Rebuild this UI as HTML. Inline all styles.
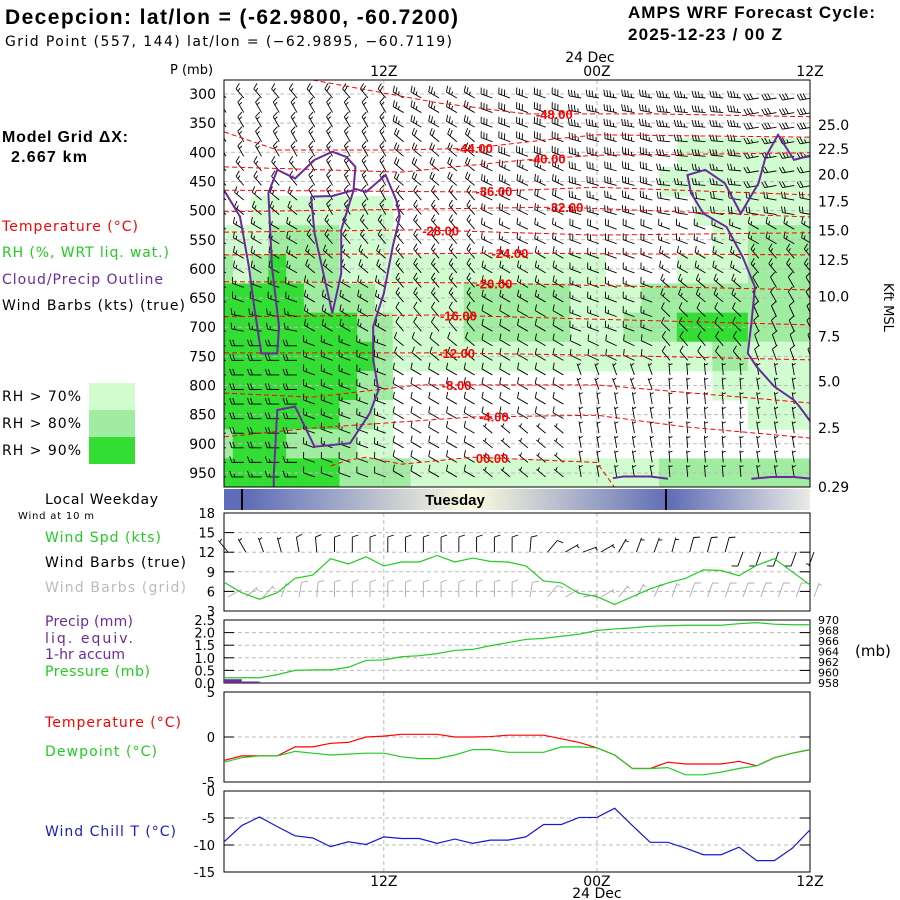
<!DOCTYPE html>
<html><head><meta charset="utf-8"><style>
html,body{margin:0;padding:0;background:#fff;}
svg{display:block;font-family:"DejaVu Sans","Liberation Sans",sans-serif;}
.t{font-size:14px;}
.b{font-family:"Liberation Sans",sans-serif;font-weight:bold;}
</style></head><body>
<svg id="c" width="900" height="900" viewBox="0 0 900 900" xmlns="http://www.w3.org/2000/svg">
<defs>
<linearGradient id="dayg" x1="224" x2="810" y1="0" y2="0" gradientUnits="userSpaceOnUse">
<stop offset="0" stop-color="#5f6db8"/><stop offset="0.04" stop-color="#5f6db8"/><stop offset="0.42" stop-color="#fdfde0"/><stop offset="0.76" stop-color="#5f6db5"/><stop offset="1" stop-color="#ebebe6"/>
</linearGradient>
<clipPath id="mainclip"><rect x="224" y="80" width="586" height="407"/></clipPath>
</defs>
<g>
<text class="b" x="5" y="24" font-size="21" textLength="453">Decepcion:  lat/lon = (-62.9800, -60.7200)</text>
<text x="5" y="46" font-size="14" textLength="447">Grid Point (557, 144) lat/lon = (−62.9895, −60.7119)</text>
<text class="b" x="628" y="18" font-size="17" textLength="247">AMPS WRF Forecast Cycle:</text>
<text class="b" x="628" y="40" font-size="17" textLength="154">2025-12-23 / 00  Z</text>
</g>
<g class="t">
<text class="b" x="2" y="142" font-size="16" textLength="126">Model Grid ΔX:</text>
<text class="b" x="11" y="162" font-size="16" textLength="76">2.667 km</text>
<text x="2" y="231" fill="#f00" textLength="136">Temperature (°C)</text>
<text x="2" y="257" fill="#22cc22" textLength="167">RH (%, WRT liq. wat.)</text>
<text x="2" y="284" fill="#6a2a9a" textLength="161">Cloud/Precip Outline</text>
<text x="2" y="310" fill="#000" textLength="183">Wind Barbs (kts) (true)</text>
<text x="2" y="401" textLength="79">RH &gt; 70%</text>
<text x="2" y="428" textLength="79">RH &gt; 80%</text>
<text x="2" y="455" textLength="79">RH &gt; 90%</text>
<rect x="89" y="383" width="46" height="27" fill="#d0fcd0"/>
<rect x="89" y="410" width="46" height="27" fill="#a0eca0"/>
<rect x="89" y="437" width="46" height="27" fill="#33dd33"/>
<text x="45" y="504" textLength="113">Local Weekday</text>
<text x="18" y="519" font-size="10" textLength="76">Wind at 10 m</text>
<text x="45" y="542" fill="#22cc22" textLength="116">Wind Spd (kts)</text>
<text x="45" y="567" textLength="141">Wind Barbs (true)</text>
<text x="45" y="592" fill="#bbb" textLength="141">Wind Barbs (grid)</text>
<text x="45" y="626" fill="#6a2a9a" textLength="88">Precip (mm)</text>
<text x="45" y="643" fill="#6a2a9a" textLength="88">liq. equiv.</text>
<text x="45" y="659" fill="#6a2a9a" textLength="80">1-hr accum</text>
<text x="45" y="676" fill="#22cc22" textLength="105">Pressure (mb)</text>
<text x="45" y="727" fill="#f00" textLength="136">Temperature (°C)</text>
<text x="45" y="756" fill="#22cc22" textLength="112">Dewpoint (°C)</text>
<text x="45" y="836" fill="#1a1acc" textLength="131">Wind Chill T (°C)</text>
</g>
<g id="main"></g>
<g id="lower"></g>
</svg>
<script>
// ---------- data ----------
var hours = [0,1,2,3,4,5,6,7,8,9,10,11,12,13,14,15,16,17,18,19,20,21,22,23,24,25,26,27,28,29,30,31,32,33];
var pLevels = [300,350,400,450,500,550,600,650,700,750,800,850,900,950];
var rhRows = [
"0000000000000000000000000000000000",
"0000000000000000000000000000000000",
"0000000000000000000000000011111111",
"0000000000000000000000000111111111",
"0011111111000000000000000001111111",
"1112222111000000000000000000112222",
"2123222111111111111111000011112222",
"3333322221111122222211112222222222",
"3333333322111122222211122233332222",
"3333333332111111111111111111221111",
"3333333322000000000000000000111111",
"3333333221000000000000000000001111",
"2333222211000000000000000000000000",
"3333333222211111111111111222222222"];
var contourLevels = ["-48.00","-44.00","-40.00","-36.00","-32.00","-28.00","-24.00","-20.00","-16.00","-12.00","-8.00","-4.00","00.00"];
var contourLines = [
[[5,276],[12,315],[17,334],[24,334],[33,339]],
[[0,365],[3,396],[10,396],[14,393],[18,379],[21,370],[33,374]],
[[0,425],[10,434],[17,413],[21,405],[33,401]],
[[0,465],[14,468],[21,460],[33,473]],
[[0,502],[19,494],[33,511]],
[[0,537],[11,533],[21,542],[33,538]],
[[0,576],[16,573],[33,576]],
[[0,622],[14,624],[33,636]],
[[0,682],[12,679],[33,696]],
[[0,744],[12,744],[21,748],[33,756]],
[[0,813],[5,820],[11,799],[21,799],[33,830]],
[[0,888],[5,873],[14,854],[21,851],[26,871],[33,890]],
[[6,938],[7,928],[8,923],[10,935],[14,923],[18,928],[21,932],[22,975]]];
var contourLabelHour = [18.6,14.1,18.2,15.2,19.2,12.2,16.1,15.2,13.2,13.1,13.1,15.2,15.1];
var cloudLines = [
[[0,465],[0.9,510],[1.4,596],[1.7,665],[2.1,745],[3,745],[3.1,699],[2.7,596],[2.5,470],[3,430],[4,445],[5.1,413],[6.1,399],[6.9,408],[7.4,425],[7.3,462],[8,468],[9.1,439],[9.7,482],[9.9,510],[9.5,562],[9,642],[8.4,699],[8.4,756],[8.7,808],[8.2,848],[7.1,899],[5.1,905],[4,836],[3,842],[2.8,956],[2.8,975]],
[[4.9,476],[6.1,475],[7.3,465],[6.6,533],[6.6,608],[6.1,676],[5.6,608],[5.1,539],[4.9,476]],
[[33.1,405],[32.1,413],[31.2,370],[30.5,408],[30.1,453],[29.1,505],[28.2,453],[27.1,430],[26.1,439],[26.3,470],[27,505],[28.3,528],[29.2,579],[29.9,631],[29.7,693],[29.5,745],[30,768],[31,802],[32.1,825],[32.4,836],[33.1,865]],
[[21.9,959],[22.5,956],[24,956],[25,960]],
[[29.7,960],[30.8,957],[32.1,957],[33.1,960]]];
// wind barbs: coarse blocks (hours 0-4,5-9,10-14,15-19,20-24,25-29,30-33)
var barbDir = [
[320,320,300,290,280,275,260],[330,330,300,290,280,275,260],[330,330,310,290,285,275,260],
[320,330,310,295,285,275,260],[310,330,320,295,285,280,280],[300,320,320,295,290,290,300],
[300,310,320,300,290,300,320],[290,300,320,300,290,310,330],[280,300,320,300,290,315,335],
[270,290,310,300,295,320,340],[270,290,300,300,340,355,350],[270,290,300,300,350,355,350],
[270,290,300,310,350,355,350],[270,290,300,310,350,355,350]];
var barbSpd = [
[15,20,25,30,35,35,30],[15,15,25,30,35,35,30],[15,15,20,30,35,30,25],[15,15,20,25,30,25,20],
[15,15,15,20,25,20,20],[15,15,15,15,20,15,15],[15,15,15,15,15,15,15],[15,15,15,15,15,15,10],
[15,15,10,10,15,10,10],[20,15,10,10,10,10,10],[20,15,10,10,5,5,5],[20,15,10,10,5,5,5],
[20,15,10,5,5,5,5],[15,10,10,5,5,5,5]];
var windSpd = [7.4,5.8,4.8,5.8,8,8.5,11,10.2,11.3,9.9,10.5,10.5,11.5,10.5,11.1,10.6,10.5,9.9,7.6,7.3,5.7,5.2,4.0,5.2,6.4,7.3,8,9.3,9.2,8.4,10,11,9,7];
var windDirTrue = [320,330,340,345,350,355,0,0,0,0,0,0,0,0,0,0,0,5,40,60,70,60,30,20,20,15,15,15,15,200,200,200,200,200];
var windDirGrid = [60,50,40,20,10,5,0,0,0,0,0,0,0,0,0,0,0,10,40,60,80,60,40,30,25,20,20,20,20,20,20,20,20,20];
var precip = [0.15,0.06,0,0,0,0,0,0,0,0,0,0,0,0,0,0,0,0,0,0,0,0,0,0,0,0,0,0,0,0,0,0,0,0];
var pressure = [959,959,959,959.6,960.4,960.5,960.5,961,962.3,962.4,963,963.2,963.6,964.2,964.4,965.1,965.7,966.3,966.5,966.9,967.3,968,968.3,968.5,968.8,968.9,969,969,969,969.3,969.5,969.2,969.1,969.1];
var temp = [-2.6,-2.1,-2.1,-2.1,-1.1,-1.1,-0.7,-0.6,0,0.1,0.3,0.3,0.3,0,0,0.05,0.2,0.2,0.2,-0.2,-0.6,-1.2,-2.0,-3.5,-3.5,-2.8,-3.0,-3.0,-3.0,-2.7,-3.2,-2.3,-1.8,-1.4];
var dewp = [-2.8,-2.3,-2.1,-2.1,-1.6,-1.8,-2.0,-1.9,-1.8,-1.8,-2.2,-2.4,-2.4,-2.0,-1.4,-1.4,-1.7,-1.7,-1.7,-1.1,-1.1,-1.2,-2.0,-3.5,-3.5,-3.4,-4.2,-4.2,-3.9,-3.5,-3.2,-2.3,-1.8,-1.4];
var windChill = [-9.4,-6.4,-4.8,-6.6,-8.3,-8.7,-10.3,-9.4,-9.9,-8.5,-8.8,-8.8,-9.7,-8.9,-9.7,-9.1,-9.1,-8.5,-6.2,-6.2,-4.9,-4.9,-3.2,-6.4,-9.5,-9.5,-10.6,-11.8,-11.8,-10.4,-12.9,-12.9,-10.6,-7.2];
var pTicks = ["300","350","400","450","500","550","600","650","700","750","800","850","900","950"];
var kftTicks = ["25.0","22.5","20.0","17.5","15.0","12.5","10.0","7.5","5.0","2.5","0.29"];
var kftPress = [353,394,438,484,534,585,647,716,793,873,974];
var timeTickHours = [9,21,33];
var timeTickLabels = ["12Z","00Z","12Z"];
var spdTicks = [3,6,9,12,15,18];
var precipTicks = [0,0.5,1,1.5,2,2.5];
var precipTickLabels = ["0.0","0.5","1.0","1.5","2.0","2.5"];
var presTickLabels = ["958","960","962","964","966","968","970"];
var tempTicks = [-5,0,5];
var chillTicks = [-15,-10,-5,0];

// ---------- helpers ----------
var NS = "http://www.w3.org/2000/svg";
var main = document.getElementById('main');
var lower = document.getElementById('lower');
function mk(tag, attrs, parent){var e=document.createElementNS(NS,tag);for(var k in attrs)e.setAttribute(k,attrs[k]);parent.appendChild(e);return e;}
var X0=224, X1=810;
function xh(h){return X0 + h*(X1-X0)/33;}
function yp(p){return 94 + (p-300)*0.583;}
function lin(v,v0,v1,y0,y1){return y0+(v-v0)*(y1-y0)/(v1-v0);}

// ---------- main panel ----------
var rhColors = [null,"#d0fcd0","#a0eca0","#33dd33"];
var rhG = mk('g',{'clip-path':'url(#mainclip)'},main);


for (var li=0; li<pLevels.length; li++){
  for (var hi=0; hi<hours.length; hi++){
    var v = +rhRows[li][hi];
    if (!v) continue;
    var xa = xh(Math.max(0,hours[hi]-0.5)), xb = xh(Math.min(33,hours[hi]+0.5));
    var ya = yp(pLevels[li]-25), yb = yp(pLevels[li]+25);
    if (li===0) ya = 80; if (li===pLevels.length-1) yb = 487;
    var r = mk('rect',{x:xa,y:ya,width:xb-xa+0.5,height:yb-ya+0.5,fill:rhColors[v]},rhG);
    
    
  }
}
var gridG = mk('g',{stroke:'#bbb','stroke-dasharray':'4,3','stroke-width':1},main);


for (var i=0;i<pLevels.length;i++){ mk('line',{x1:X0,x2:X1,y1:yp(pLevels[i]),y2:yp(pLevels[i])},gridG); }
for (var i=0;i<2;i++){ mk('line',{x1:xh(timeTickHours[i]),x2:xh(timeTickHours[i]),y1:80,y2:487},gridG); }

function barb(g,x,y,dir,spd,color,L){
  var a = dir*Math.PI/180, sx=Math.sin(a), sy=-Math.cos(a);
  var ex=x+L*sx, ey=y+L*sy;
  var d = "M"+x+","+y+"L"+ex+","+ey;
  var px=-sy, py=sx;
  var s = Math.round(spd/5)*5, pos=0;
  while (s>=50){ var bx=ex-sx*pos, by=ey-sy*pos; d+="M"+bx+","+by+"L"+(bx+px*6)+","+(by+py*6)+"L"+(bx-sx*3)+","+(by-sy*3); pos+=4; s-=50; }
  while (s>=10){ var bx=ex-sx*pos, by=ey-sy*pos; d+="M"+bx+","+by+"L"+(bx+px*6+sx*2)+","+(by+py*6+sy*2); pos+=3; s-=10; }
  if (s>=5){ if(pos===0)pos=2; var bx=ex-sx*pos, by=ey-sy*pos; d+="M"+bx+","+by+"L"+(bx+px*3.5+sx*1)+","+(by+py*3.5+sy*1); }
  var p = mk('path',{d:d,stroke:color,'stroke-width':0.9,fill:'none'},g);
  
  
}
var barbG = mk('g',{'clip-path':'url(#mainclip)'},main);


for (var p=300; p<=950; p+=25){
  var li = Math.min(13, Math.round((p-300)/50));
  for (var hi=0; hi<hours.length; hi++){
    var blk = Math.min(6, Math.floor(hours[hi]/5));
    barb(barbG, xh(hours[hi])+2, yp(p)+4, barbDir[li][blk], barbSpd[li][blk], '#000', 12);
  }
}
function interpP(line,h){
  for (var i=0;i<line.length-1;i++){ if (h>=line[i][0] && h<=line[i+1][0]) return line[i][1]+(h-line[i][0])*(line[i+1][1]-line[i][1])/(line[i+1][0]-line[i][0]); }
  return line[line.length-1][1];
}
var ctG = mk('g',{'clip-path':'url(#mainclip)'},main);


for (var c=0;c<contourLines.length;c++){
  var pts = contourLines[c].map(function(q){return xh(q[0])+","+yp(q[1]);}).join(" ");
  var pl = mk('polyline',{points:pts,fill:'none',stroke:'#f00','stroke-width':1,'stroke-dasharray':'5,3'},ctG);
  
  
  var lh = contourLabelHour[c];
  var t = mk('text',{x:xh(lh),y:yp(interpP(contourLines[c],lh))+5,fill:'#f00','font-size':13,'font-weight':'bold','text-anchor':'middle','font-family':'Liberation Sans, sans-serif'},ctG);
  t.textContent = contourLevels[c];
  
  
}
var clG = mk('g',{'clip-path':'url(#mainclip)'},main);


for (var c=0;c<cloudLines.length;c++){
  var pts = cloudLines[c].map(function(q){return xh(q[0])+","+yp(q[1]);}).join(" ");
  var pl = mk('polyline',{points:pts,fill:'none',stroke:'#6a2a9a','stroke-width':2},clG);
  
  
}
var fr = mk('rect',{x:X0,y:80,width:X1-X0,height:407,fill:'none',stroke:'#000','stroke-width':1},main);


for (var i=0;i<pTicks.length;i++){
  var t = mk('text',{x:216,y:yp(+pTicks[i])+5,'text-anchor':'end','font-size':14},main);
  t.textContent = pTicks[i];
  
  
}
for (var i=0;i<kftTicks.length;i++){
  var t = mk('text',{x:818,y:yp(kftPress[i])+5,'font-size':14},main);
  t.textContent = kftTicks[i];
  
  
}
var kt = mk('text',{x:0,y:0,'font-size':13,transform:'translate(884,283) rotate(90)'},main);
kt.textContent = "Kft MSL";


var pt = mk('text',{x:170,y:74,'font-size':13},main);
pt.textContent = "P (mb)";


for (var i=0;i<3;i++){
  var t = mk('text',{x:xh(timeTickHours[i]),y:76,'text-anchor':'middle','font-size':14},main);
  t.textContent = timeTickLabels[i];
  
  
  var t2 = mk('text',{x:xh(timeTickHours[i]),y:886,'text-anchor':'middle','font-size':14},main);
  t2.textContent = timeTickLabels[i];
  
  
}
var d1 = mk('text',{x:xh(21)-7,y:62,'text-anchor':'middle','font-size':14},main); d1.textContent="24 Dec";


var d2 = mk('text',{x:xh(21),y:898,'text-anchor':'middle','font-size':14},main); d2.textContent="24 Dec";



var db = mk('rect',{x:X0,y:489,width:X1-X0,height:21,fill:'url(#dayg)'},lower);


var dbl1 = mk('line',{x1:242,x2:242,y1:489,y2:510,stroke:'#000','stroke-width':2},lower);


var dbl2 = mk('line',{x1:666,x2:666,y1:489,y2:510,stroke:'#000','stroke-width':2},lower);


var tu = mk('text',{x:455,y:505,'text-anchor':'middle','font-size':15,'font-weight':'bold','font-family':'Liberation Sans, sans-serif'},lower);
tu.textContent="Tuesday";



function panel(name,y0,y1,ticksL,labelsL,v0,v1,gridVals){
  var g = mk('g',{},lower);
  
  
  var gg = mk('g',{stroke:'#bbb','stroke-dasharray':'4,3'},g);
  for (var i=0;i<gridVals.length;i++){ var y=lin(gridVals[i],v0,v1,y1,y0); mk('line',{x1:X0,x2:X1,y1:y,y2:y},gg); }
  for (var i=0;i<2;i++){ mk('line',{x1:xh(timeTickHours[i]),x2:xh(timeTickHours[i]),y1:y0,y2:y1},gg); }
  for (var i=0;i<ticksL.length;i++){
    var y=lin(ticksL[i],v0,v1,y1,y0);
    mk('line',{x1:X0,x2:X0+10,y1:y,y2:y,stroke:'#000'},g); mk('line',{x1:X1-10,x2:X1,y1:y,y2:y,stroke:'#000'},g);
    var t = mk('text',{x:215,y:y+5,'text-anchor':'end','font-size':13},g); t.textContent=labelsL[i];
    
    
  }
  var r = mk('rect',{x:X0,y:y0,width:X1-X0,height:y1-y0,fill:'none',stroke:'#000'},g);
  
  
  return g;
}
function line(g,arr,v0,v1,y0,y1,color,name){
  var pts = arr.map(function(v,i){return xh(hours[i])+","+lin(v,v0,v1,y1,y0);}).join(" ");
  var pl = mk('polyline',{points:pts,fill:'none',stroke:color,'stroke-width':1.2},g);
  
  
}
var wg = panel('wind-panel',513,611,spdTicks,spdTicks.map(String),3,18,[6,9,12,15]);
for (var i=0;i<hours.length;i++){ barb(wg,xh(hours[i])+4,552,windDirTrue[i],windSpd[i],'#000',15); }
for (var i=0;i<hours.length;i++){ barb(wg,xh(hours[i])+4,597,windDirGrid[i],windSpd[i],'#aaa',15); }
line(wg,windSpd,3,18,513,611,'#22cc22','wind-speed-line');
var pg = panel('precip-pressure-panel',620,683,precipTicks,precipTickLabels,0,2.5,[0.5,1,1.5,2]);
for (var i=0;i<presTickLabels.length;i++){
  var t = mk('text',{x:818,y:lin(+presTickLabels[i],958,970,683,620)+4,'font-size':11},pg); t.textContent=presTickLabels[i];
  
  
}
var mbt = mk('text',{x:855,y:656,'font-size':15},pg); mbt.textContent="(mb)";


for (var i=0;i<hours.length;i++){
  if (precip[i]<=0) continue;
  var yt = lin(precip[i],0,2.5,683,620);
  var r = mk('rect',{x:xh(hours[i]),y:yt,width:xh(1)-xh(0),height:683-yt,fill:'#6a2a9a'},pg);
  
  
}
line(pg,pressure,958,970,620,683,'#22cc22','pressure-line');
var tg = panel('temperature-panel',692,782,tempTicks,tempTicks.map(String),-5,5,[0]);
line(tg,temp,-5,5,692,782,'#f00','temperature-line');
line(tg,dewp,-5,5,692,782,'#22cc22','dewpoint-line');
var cg = panel('wind-chill-panel',791,872,chillTicks,chillTicks.map(String),-15,0,[-10,-5]);
line(cg,windChill,-15,0,791,872,'#1a1acc','wind-chill-line');
</script>
</body></html>
